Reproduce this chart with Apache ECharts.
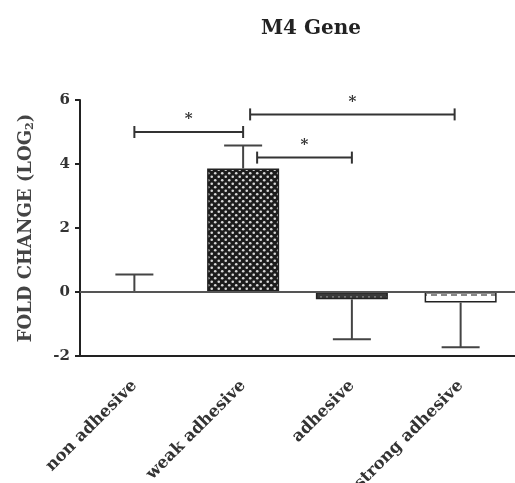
<!DOCTYPE html>
<html><head><meta charset="utf-8">
<script src="https://cdn.jsdelivr.net/npm/echarts@6/dist/echarts.min.js"></script>
<style>html,body{margin:0;padding:0;background:#fff}#c{width:515px;height:483px}</style>
</head><body><div id="c"></div>
<script>
// ---- data ----
const categories = ['non adhesive', 'weak adhesive', 'adhesive', 'strong adhesive'];
const foldChange = [0, 3.86, -0.23, -0.33];
const errorEnd = [0.55, 4.58, -1.48, -1.73];
const sigFrom = [0, 1, 1];
const sigTo = [1, 3, 2];
const sigLevel = [5.0, 5.55, 4.2];
const sigLabel = ['*', '*', '*'];
const yTicks = [-2, 0, 2, 4, 6];

// ---- styling helpers ----
const FONT = '"DejaVu Serif", "Liberation Serif", serif';
const sigStartShift = [0, 7, 14];
const sigEndShift = [0, -6, 0];

function makePattern(w, h, draw) {
  const c = document.createElement('canvas');
  c.width = w; c.height = h;
  draw(c.getContext('2d'));
  return c;
}
const dotsPattern = makePattern(7, 7, ctx => {
  ctx.fillStyle = '#1c1c1c'; ctx.fillRect(0, 0, 7, 7);
  ctx.fillStyle = '#d8d8d8';
  ctx.beginPath(); ctx.arc(1.75, 1.75, 1.3, 0, Math.PI * 2); ctx.fill();
  ctx.beginPath(); ctx.arc(5.25, 5.25, 1.3, 0, Math.PI * 2); ctx.fill();
});
const darkPattern = makePattern(6, 6, ctx => {
  ctx.fillStyle = '#3a3a3a'; ctx.fillRect(0, 0, 6, 6);
  ctx.fillStyle = '#8a8a8a';
  ctx.beginPath(); ctx.arc(3, 3, 1, 0, Math.PI * 2); ctx.fill();
});
const dashPattern = makePattern(10, 10, ctx => {
  ctx.fillStyle = '#ffffff'; ctx.fillRect(0, 0, 10, 10);
  ctx.fillStyle = '#888';
  ctx.fillRect(1, 4, 6, 2);
});
const fills = [
  '#ffffff',
  { image: dotsPattern, repeat: 'repeat' },
  { image: darkPattern, repeat: 'repeat' },
  { image: dashPattern, repeat: 'repeat' }
];

const chart = echarts.init(document.getElementById('c'));
chart.setOption({
  animation: false,
  backgroundColor: '#fff',
  title: {
    text: 'M4 Gene', left: 306, top: 14, textAlign: 'center',
    textStyle: { fontFamily: FONT, fontWeight: 'bold', fontSize: 20, color: '#222' }
  },
  grid: { left: 80, right: 0, top: 100, bottom: 127, containLabel: false, outerBoundsMode: 'none' },
  xAxis: {
    type: 'category', data: categories,
    axisLine: { onZero: false, lineStyle: { color: '#222', width: 2 } },
    axisTick: { alignWithLabel: true, length: 6, lineStyle: { color: '#222', width: 2 } },
    axisLabel: { rotate: 45, fontFamily: FONT, fontWeight: 'bold', fontSize: 16.5, color: '#333', margin: 27 }
  },
  yAxis: {
    type: 'value', min: yTicks[0], max: yTicks[yTicks.length - 1], interval: 2,
    name: 'FOLD CHANGE (LOG{sub|2})', nameLocation: 'middle', nameRotate: 90, nameGap: 44,
    nameTextStyle: {
      fontFamily: FONT, fontWeight: 'bold', fontSize: 18, color: '#444',
      rich: { sub: { fontFamily: FONT, fontWeight: 'bold', fontSize: 11, color: '#444', verticalAlign: 'bottom', padding: [9, 0, 0, 0] } }
    },
    splitLine: { show: false },
    axisLine: { show: true, lineStyle: { color: '#222', width: 2 } },
    axisTick: { show: true, length: 5, lineStyle: { color: '#222', width: 2 } },
    axisLabel: { fontFamily: FONT, fontWeight: 'bold', fontSize: 15, color: '#333', margin: 10 }
  },
  series: [
    {
      type: 'bar', barWidth: 72,
      data: foldChange.map((v, i) => ({
        value: v,
        itemStyle: { color: fills[i], borderColor: '#222', borderWidth: v === 0 ? 0 : 1.5 }
      })),
      markLine: {
        silent: true, symbol: 'none', label: { show: false },
        lineStyle: { color: '#555', width: 2, type: 'solid' },
        data: [{ yAxis: 0 }]
      },
      z: 2
    },
    {
      type: 'custom', z: 3,
      data: categories.map((c, i) => [i, foldChange[i], errorEnd[i]]),
      renderItem: (params, api) => {
        const p0 = api.coord([api.value(0), api.value(1)]);
        const p1 = api.coord([api.value(0), api.value(2)]);
        const half = 19;
        const st = { stroke: '#444', lineWidth: 2 };
        return {
          type: 'group', children: [
            { type: 'line', shape: { x1: p0[0], y1: p0[1], x2: p1[0], y2: p1[1] }, style: st },
            { type: 'line', shape: { x1: p1[0] - half, y1: p1[1], x2: p1[0] + half, y2: p1[1] }, style: st }
          ]
        };
      }
    },
    {
      type: 'custom', z: 4,
      data: sigFrom.map((f, i) => [f, sigTo[i], sigLevel[i], i]),
      renderItem: (params, api) => {
        const k = api.value(3);
        const a = api.coord([api.value(0), api.value(2)]);
        const b = api.coord([api.value(1), api.value(2)]);
        const x1 = a[0] + sigStartShift[k], x2 = b[0] + sigEndShift[k], y = a[1];
        const st = { stroke: '#333', lineWidth: 2 };
        return {
          type: 'group', children: [
            { type: 'line', shape: { x1: x1, y1: y, x2: x2, y2: y }, style: st },
            { type: 'line', shape: { x1: x1, y1: y - 6, x2: x1, y2: y + 6 }, style: st },
            { type: 'line', shape: { x1: x2, y1: y - 6, x2: x2, y2: y + 6 }, style: st },
            { type: 'text', style: { text: sigLabel[k], x: (x1 + x2) / 2, y: y - 5, align: 'center', verticalAlign: 'bottom',
              font: 'bold 15px ' + FONT, fill: '#333' } }
          ]
        };
      }
    }
  ]
});
</script></body></html>
